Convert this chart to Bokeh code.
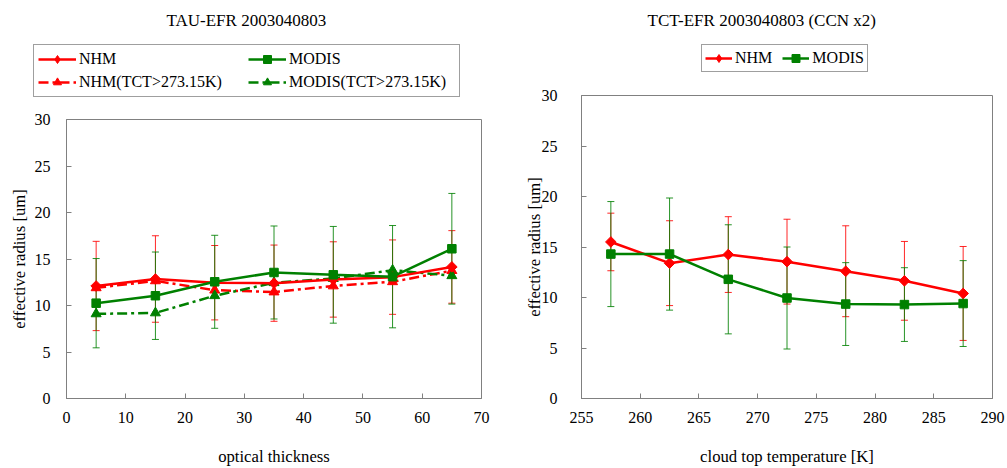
import numpy as np
from bokeh.plotting import figure
from bokeh.models import (Range1d, FixedTicker, Legend, LegendItem, Whisker, Plot,
                          ColumnDataSource, TeeHead, Line, Scatter, Label)
from bokeh.embed import file_html
from bokeh.resources import INLINE

FONT = "Liberation Serif"
RED = "#FF0000"
GREEN = "#008000"
GRAY = "#808080"
DASHDOT = "10 4 3 4"

# ---- left chart: optical thickness ----
tau = [5, 15, 25, 35, 45, 55, 65]
nhm_tau = [12.1, 12.85, 12.45, 12.4, 12.8, 13.05, 14.15]
nhm_tau_err = [4.8, 4.65, 4.0, 4.1, 4.05, 4.0, 3.9]
modis_tau = [10.25, 11.05, 12.55, 13.55, 13.3, 13.1, 16.1]
modis_tau_err = [4.8, 4.7, 5.0, 5.0, 5.2, 5.5, 5.95]
nhm_tau_warm = [11.9, 12.65, 11.65, 11.45, 12.1, 12.55, 13.75]
modis_tau_warm = [9.1, 9.2, 11.05, 12.45, 12.9, 13.8, 13.2]
tau_ticks = [0, 10, 20, 30, 40, 50, 60, 70]

# ---- right chart: cloud top temperature ----
tct = [257.5, 262.5, 267.5, 272.5, 277.5, 282.5, 287.5]
nhm_tct = [15.5, 13.4, 14.25, 13.55, 12.6, 11.65, 10.4]
nhm_tct_err = [2.85, 4.2, 3.75, 4.2, 4.5, 3.9, 4.65]
modis_tct = [14.3, 14.3, 11.8, 9.95, 9.35, 9.3, 9.4]
modis_tct_err = [5.2, 5.55, 5.4, 5.05, 4.1, 3.65, 4.25]
tct_ticks = [255, 260, 265, 270, 275, 280, 285, 290]

ef_ticks = [0, 5, 10, 15, 20, 25, 30]

MARK = {
    "diamond": dict(marker="square", angle=np.pi / 4, size=7.5),
    "legend_diamond": dict(marker="diamond", angle=0.0, size=12),
    "square": dict(marker="square", angle=0.0, size=8.5),
    "triangle": dict(marker="triangle", angle=0.0, size=10),
}


def series(plot, x, y, color, mark, dash="solid", visible=True):
    src = ColumnDataSource(dict(x=x, y=y))
    lr = plot.add_glyph(src, Line(x="x", y="y", line_color=color, line_width=2.5,
                                  line_dash=dash), visible=visible)
    m = MARK[mark]
    sr = plot.add_glyph(src, Scatter(x="x", y="y", marker=m["marker"], angle=m["angle"],
                                     size=m["size"], fill_color=color, line_color=color),
                        visible=visible)
    return [lr, sr]


def make_fig(width, xr, border_left, border_right, border_top):
    p = figure(width=width, height=468, x_range=Range1d(*xr), y_range=Range1d(0, 30),
               output_backend="svg", toolbar_location=None, title=None,
               min_border_left=border_left, min_border_right=border_right,
               min_border_top=border_top, min_border_bottom=68)
    p.grid.visible = False
    p.outline_line_color = GRAY
    p.outline_line_width = 1
    p.background_fill_color = "white"
    p.border_fill_color = "white"
    for ax in (p.xaxis[0], p.yaxis[0]):
        ax.axis_line_color = GRAY
        ax.major_tick_line_color = GRAY
        ax.major_tick_in = 5
        ax.major_tick_out = 0
        ax.minor_tick_in = 0
        ax.minor_tick_out = 0
        ax.major_label_text_font = FONT
        ax.major_label_text_font_size = "16px"
        ax.major_label_text_color = "black"
        ax.axis_label_text_font = FONT
        ax.axis_label_text_font_size = "16.7px"
        ax.axis_label_text_font_style = "normal"
        ax.axis_label_text_color = "black"
    p.yaxis[0].ticker = FixedTicker(ticks=ef_ticks)
    p.yaxis[0].axis_label = "effective radius [um]"
    p.xaxis[0].major_label_standoff = 13
    p.xaxis[0].axis_label_standoff = 21
    return p


def make_header(width, height, title, tx, ty):
    h = Plot(width=width, height=height, x_range=Range1d(0, 1), y_range=Range1d(0, 1),
             min_border=0, toolbar_location=None, output_backend="svg", title=None,
             outline_line_color=None, background_fill_color=None, border_fill_color=None)
    h.add_layout(Label(x=tx, y=ty, x_units="screen", y_units="screen", text=title,
                       text_font=FONT, text_font_size="17px", text_color="black",
                       text_align="left", text_baseline="middle"))
    return h


def errbars(p, x, y, e, color):
    src = ColumnDataSource(dict(x=x,
                                upper=[a + b for a, b in zip(y, e)],
                                lower=[a - b for a, b in zip(y, e)]))
    w = Whisker(base="x", upper="upper", lower="lower", source=src, dimension="height",
                line_color=color, line_width=1, line_alpha=0.85,
                upper_head=TeeHead(size=7, line_color=color, line_width=1, line_alpha=0.85),
                lower_head=TeeHead(size=7, line_color=color, line_width=1, line_alpha=0.85))
    p.add_layout(w)


def make_legend(items, location, glyph_width, standoff, padding, spacing, **kw):
    lg = Legend(items=items, location=location, **kw)
    lg.label_text_font = FONT
    lg.label_text_font_size = "16px"
    lg.label_text_color = "black"
    lg.border_line_color = "#404040"
    lg.border_line_width = 1
    lg.background_fill_color = "white"
    lg.background_fill_alpha = 1
    lg.inactive_fill_alpha = 0
    lg.glyph_width = glyph_width
    lg.glyph_height = 20
    lg.label_height = 20
    lg.label_standoff = standoff
    lg.padding = padding
    lg.spacing = spacing
    lg.margin = 0
    return lg


# ---------------- left figure ----------------
p1 = make_fig(508, (0, 70), 66, 27, 119)
p1.xaxis[0].ticker = FixedTicker(ticks=tau_ticks)
p1.xaxis[0].axis_label = "optical thickness"
p1.yaxis[0].major_label_standoff = 16
p1.yaxis[0].axis_label_standoff = 3

errbars(p1, tau, nhm_tau, nhm_tau_err, RED)
errbars(p1, tau, modis_tau, modis_tau_err, GREEN)
series(p1, tau, nhm_tau_warm, RED, "triangle", DASHDOT)
series(p1, tau, modis_tau_warm, GREEN, "triangle", DASHDOT)
series(p1, tau, nhm_tau, RED, "diamond")
series(p1, tau, modis_tau, GREEN, "square")

# header (title + legend) of the left chart
h1 = make_header(508, 119, "TAU-EFR 2003040803", 166, 99.5)
lg1 = make_legend([
    LegendItem(label="NHM",
               renderers=series(h1, tau, nhm_tau, RED, "legend_diamond", visible=False)),
    LegendItem(label="NHM(TCT>273.15K)",
               renderers=series(h1, tau, nhm_tau_warm, RED, "triangle", DASHDOT, visible=False)),
    LegendItem(label="MODIS",
               renderers=series(h1, tau, modis_tau, GREEN, "square", visible=False)),
    LegendItem(label="MODIS(TCT>273.15K)",
               renderers=series(h1, tau, modis_tau_warm, GREEN, "triangle", DASHDOT, visible=False)),
], (33, 22), 38, 3, 4, 3, orientation="vertical", nrows=2)
lg1.label_width = 166
h1.add_layout(lg1)

# ---------------- right figure ----------------
p2 = make_fig(499, (255, 290), 73, 15, 95)
p2.xaxis[0].ticker = FixedTicker(ticks=tct_ticks)
p2.xaxis[0].axis_label = "cloud top temperature [K]"
p2.yaxis[0].major_label_standoff = 24
p2.yaxis[0].axis_label_standoff = -5

errbars(p2, tct, nhm_tct, nhm_tct_err, RED)
errbars(p2, tct, modis_tct, modis_tct_err, GREEN)
series(p2, tct, nhm_tct, RED, "diamond")
series(p2, tct, modis_tct, GREEN, "square")

h2 = make_header(499, 95, "TCT-EFR 2003040803 (CCN x2)", 139, 75.5)
lg2 = make_legend([
    LegendItem(label="NHM",
               renderers=series(h2, tct, nhm_tct, RED, "legend_diamond", visible=False)),
    LegendItem(label="MODIS",
               renderers=series(h2, tct, modis_tct, GREEN, "square", visible=False)),
], (193, 23), 27, 3, 3, 10, orientation="horizontal")
h2.add_layout(lg2)

# place the four roots: charts, with their transparent headers on top
template = """
{% block contents %}
{% from macros import embed %}
{% for doc in docs %}
{% for root in doc.roots %}
<div style="position:absolute; top:0px; left:{{ [0, 508, 0, 508][loop.index0] }}px;">
{{ embed(root) }}
</div>
{% endfor %}
{% endfor %}
{% endblock %}
"""
open("out.html", "w").write(file_html([p1, p2, h1, h2], INLINE, template=template))
